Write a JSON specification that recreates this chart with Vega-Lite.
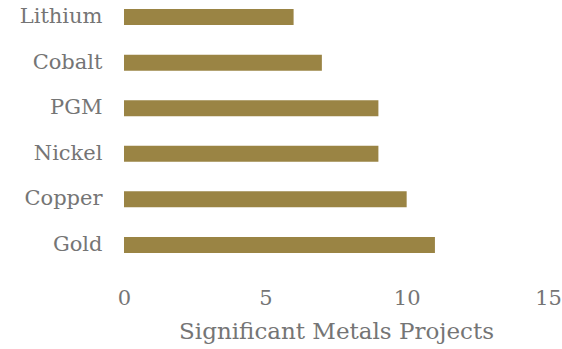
{
  "$schema": "https://vega.github.io/schema/vega-lite/v6.json",
  "width": 424,
  "height": 262,
  "autosize": {"type": "none"},
  "padding": {"left": 124, "top": 0, "right": 14, "bottom": 87},
  "background": "white",
  "config": {"view": {"stroke": null}, "font": "DejaVu Serif"},
  "data": {"values": [
    {"metal": "Lithium", "projects": 6},
    {"metal": "Cobalt", "projects": 7},
    {"metal": "PGM", "projects": 9},
    {"metal": "Nickel", "projects": 9},
    {"metal": "Copper", "projects": 10},
    {"metal": "Gold", "projects": 11}
  ]},
  "mark": {"type": "bar", "color": "#9a8444"},
  "encoding": {
    "y": {
      "field": "metal", "type": "nominal", "sort": null,
      "scale": {"paddingInner": 0.65, "paddingOuter": 0.2},
      "axis": {"title": null, "ticks": false, "domain": false, "labelPadding": 22, "labelFontSize": 21, "labelColor": "#757575", "labelFont": "DejaVu Serif"}
    },
    "x": {
      "field": "projects", "type": "quantitative",
      "scale": {"domain": [0, 15]},
      "axis": {"values": [0, 5, 10, 15], "grid": false, "ticks": false, "domain": false, "labelFlush": false, "labelPadding": 25, "labelFontSize": 21, "labelColor": "#757575", "labelFont": "DejaVu Serif", "title": "Significant Metals Projects", "titleFontSize": 23, "titleFontWeight": "normal", "titleColor": "#757575", "titleFont": "DejaVu Serif", "titlePadding": 12}
    }
  }
}
